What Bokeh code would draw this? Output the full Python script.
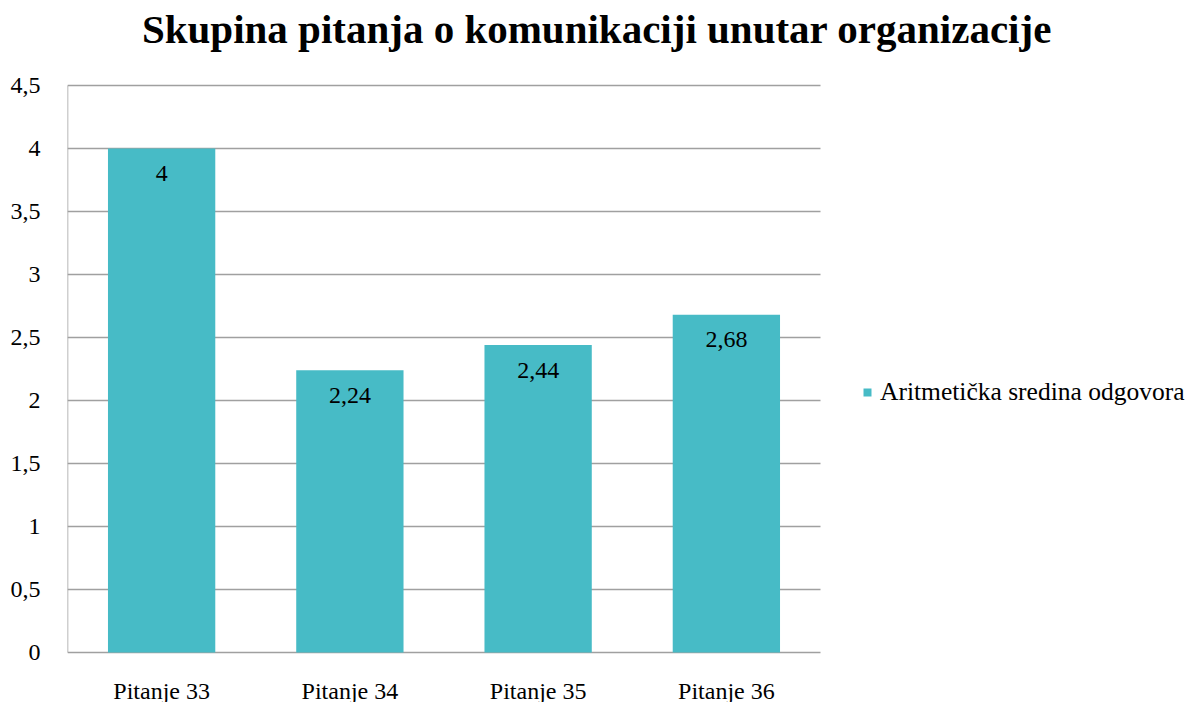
from bokeh.plotting import figure
from bokeh.models import (ColumnDataSource, Range1d, FixedTicker, LabelSet, Label,
                          Legend, LegendItem)
from bokeh.embed import file_html
from bokeh.resources import INLINE

categories = ["Pitanje 33", "Pitanje 34", "Pitanje 35", "Pitanje 36"]
values = [4.0, 2.24, 2.44, 2.68]
value_labels = ["4", "2,24", "2,44", "2,68"]
y_ticks = [0, 0.5, 1, 1.5, 2, 2.5, 3, 3.5, 4, 4.5]
y_tick_labels = ["0", "0,5", "1", "1,5", "2", "2,5", "3", "3,5", "4", "4,5"]
series_name = "Aritmetička sredina odgovora"
title_text = "Skupina pitanja o komunikaciji unutar organizacije"

BAR = "#47BBC6"
GRID = "#A0A0A0"
SERIF = "Liberation Serif"

# layout (pixels)
W, H = 1186, 702
PLOT_L, PLOT_R, PLOT_T, PLOT_B = 67, 820, 85, 652
TITLE_X, TITLE_Y = 596.5, 28
Y_MAX = 4.5
n = len(categories)
ux = (PLOT_R - PLOT_L) / n          # px per category
uy = (PLOT_B - PLOT_T) / Y_MAX      # px per unit

xpos = [i + 0.5 for i in range(n)]
src = ColumnDataSource(dict(x=xpos, y=values, lab=value_labels,
                            cat=categories, zero=[0] * n))
grid_src = ColumnDataSource(dict(y=y_ticks, x0=[0] * len(y_ticks), x1=[n] * len(y_ticks)))

p = figure(width=W, height=H,
           x_range=Range1d(0, (W - PLOT_L) / ux),
           y_range=Range1d(-(H - PLOT_B) / uy, Y_MAX + PLOT_T / uy),
           x_axis_location=None, y_axis_location="left",
           output_backend="svg", toolbar_location=None,
           min_border_left=PLOT_L, min_border_right=0, min_border_top=0, min_border_bottom=0)
p.outline_line_color = None
p.xgrid.visible = False
p.ygrid.visible = False

# gridlines and axis line
p.segment(x0="x0", x1="x1", y0="y", y1="y", source=grid_src, line_color=GRID, line_width=1.5)
p.segment(x0=[0], x1=[0], y0=[0], y1=[Y_MAX], line_color=GRID, line_width=1.5)

r = p.vbar(x="x", top="y", width=0.57, source=src, fill_color=BAR, line_color=None)

p.yaxis.ticker = FixedTicker(ticks=y_ticks)
p.yaxis.major_label_overrides = {k: v for k, v in zip(y_ticks, y_tick_labels)}
p.yaxis.major_label_text_font = SERIF
p.yaxis.major_label_text_font_size = "24px"
p.yaxis.major_label_text_color = "black"
p.yaxis.major_label_standoff = 21
p.yaxis.axis_line_color = None
p.yaxis.major_tick_line_color = None
p.yaxis.minor_tick_line_color = None

# category labels
p.add_layout(LabelSet(x="x", y="zero", text="cat", source=src, text_align="center",
                      text_baseline="middle", y_offset=-38, text_font=SERIF,
                      text_font_size="24px", text_color="black"))

# value labels
p.add_layout(LabelSet(x="x", y="y", text="lab", source=src, text_align="center",
                      text_baseline="middle", y_offset=-25, text_font=SERIF,
                      text_font_size="24px", text_color="black"))

# title
p.add_layout(Label(x=(TITLE_X - PLOT_L) / ux, y=Y_MAX + (PLOT_T - TITLE_Y) / uy, text=title_text,
                   text_align="center", text_baseline="alphabetic", text_font=SERIF,
                   text_font_size="41px", text_font_style="bold", text_color="black"))

legend = Legend(items=[LegendItem(label=series_name, renderers=[r])],
                location=(795, 295), glyph_width=10, glyph_height=10,
                label_text_font=SERIF, label_text_font_size="25.5px",
                label_text_color="black",
                label_standoff=8, border_line_color=None, background_fill_alpha=0,
                padding=0, margin=0)
p.add_layout(legend, "center")

open("out.html", "w").write(file_html(p, INLINE))
